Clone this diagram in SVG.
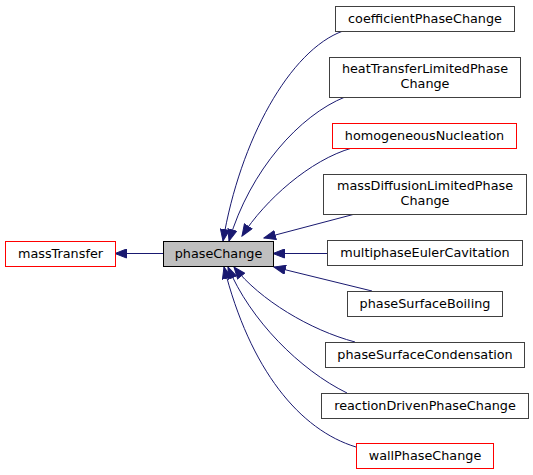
<svg xmlns="http://www.w3.org/2000/svg" width="533" height="475" viewBox="0 0 533 475">
<style>
.n rect{fill:#fff;stroke:#404040;stroke-width:1}
.n.red rect{stroke:#ff0000}
.n.cur rect{fill:#bfbfbf;stroke:#000}
.n text{font-family:"DejaVu Sans",sans-serif;font-size:12.8px;text-anchor:middle;fill:#000}
#edges path{fill:none;stroke:#191970;stroke-width:1;marker-end:url(#ah)}
</style>
<defs>
<marker id="ah" markerUnits="userSpaceOnUse" markerWidth="13" markerHeight="10" refX="12" refY="5" orient="auto" viewBox="0 0 13 10">
<path d="M0.5,0.5 L12,5 L0.5,9.5 z" fill="#191970" stroke="#191970"/>
</marker>
</defs>
<rect width="533" height="475" fill="#fff"/>
<g id="edges">
<path d="M163,253.5 L115,253.5"/>
<path d="M343,31 C290,50 240,140 223,241"/>
<path d="M345,97 C300,115 250,170 229,241"/>
<path d="M352,148 C310,160 265,200 242,236"/>
<path d="M355,214 L264,238"/>
<path d="M327,253.5 L273,253.5"/>
<path d="M372,291 L274,267"/>
<path d="M355,342 C310,330 260,300 234,267"/>
<path d="M347,393 C300,370 250,320 228,267"/>
<path d="M356,447 C300,430 250,370 224,267"/>
</g>
<g id="massTransfer" class="n red"><rect x="5.5" y="241.5" width="110" height="25"/><text x="60.5" y="258">massTransfer</text></g>
<g id="phaseChange" class="n cur"><rect x="163.5" y="241.5" width="110" height="25"/><text x="218.5" y="258">phaseChange</text></g>
<g id="coefficientPhaseChange" class="n"><rect x="335.5" y="6.5" width="179" height="25"/><text x="425" y="23">coefficientPhaseChange</text></g>
<g id="heatTransferLimitedPhaseChange" class="n"><rect x="329.5" y="57.5" width="191" height="40"/><text x="425" y="73">heatTransferLimitedPhase</text><text x="425" y="88">Change</text></g>
<g id="homogeneousNucleation" class="n red"><rect x="332.5" y="123.5" width="184" height="25"/><text x="424.5" y="140">homogeneousNucleation</text></g>
<g id="massDiffusionLimitedPhaseChange" class="n"><rect x="323.5" y="174.5" width="203" height="40"/><text x="425" y="190">massDiffusionLimitedPhase</text><text x="425" y="205">Change</text></g>
<g id="multiphaseEulerCavitation" class="n"><rect x="327.5" y="240.5" width="195" height="25"/><text x="425" y="257">multiphaseEulerCavitation</text></g>
<g id="phaseSurfaceBoiling" class="n"><rect x="347.5" y="291.5" width="155" height="25"/><text x="425" y="308">phaseSurfaceBoiling</text></g>
<g id="phaseSurfaceCondensation" class="n"><rect x="325.5" y="342.5" width="199" height="25"/><text x="425" y="359">phaseSurfaceCondensation</text></g>
<g id="reactionDrivenPhaseChange" class="n"><rect x="321.5" y="393.5" width="207" height="25"/><text x="425" y="410">reactionDrivenPhaseChange</text></g>
<g id="wallPhaseChange" class="n red"><rect x="356.5" y="443.5" width="137" height="25"/><text x="425" y="460">wallPhaseChange</text></g>
</svg>
